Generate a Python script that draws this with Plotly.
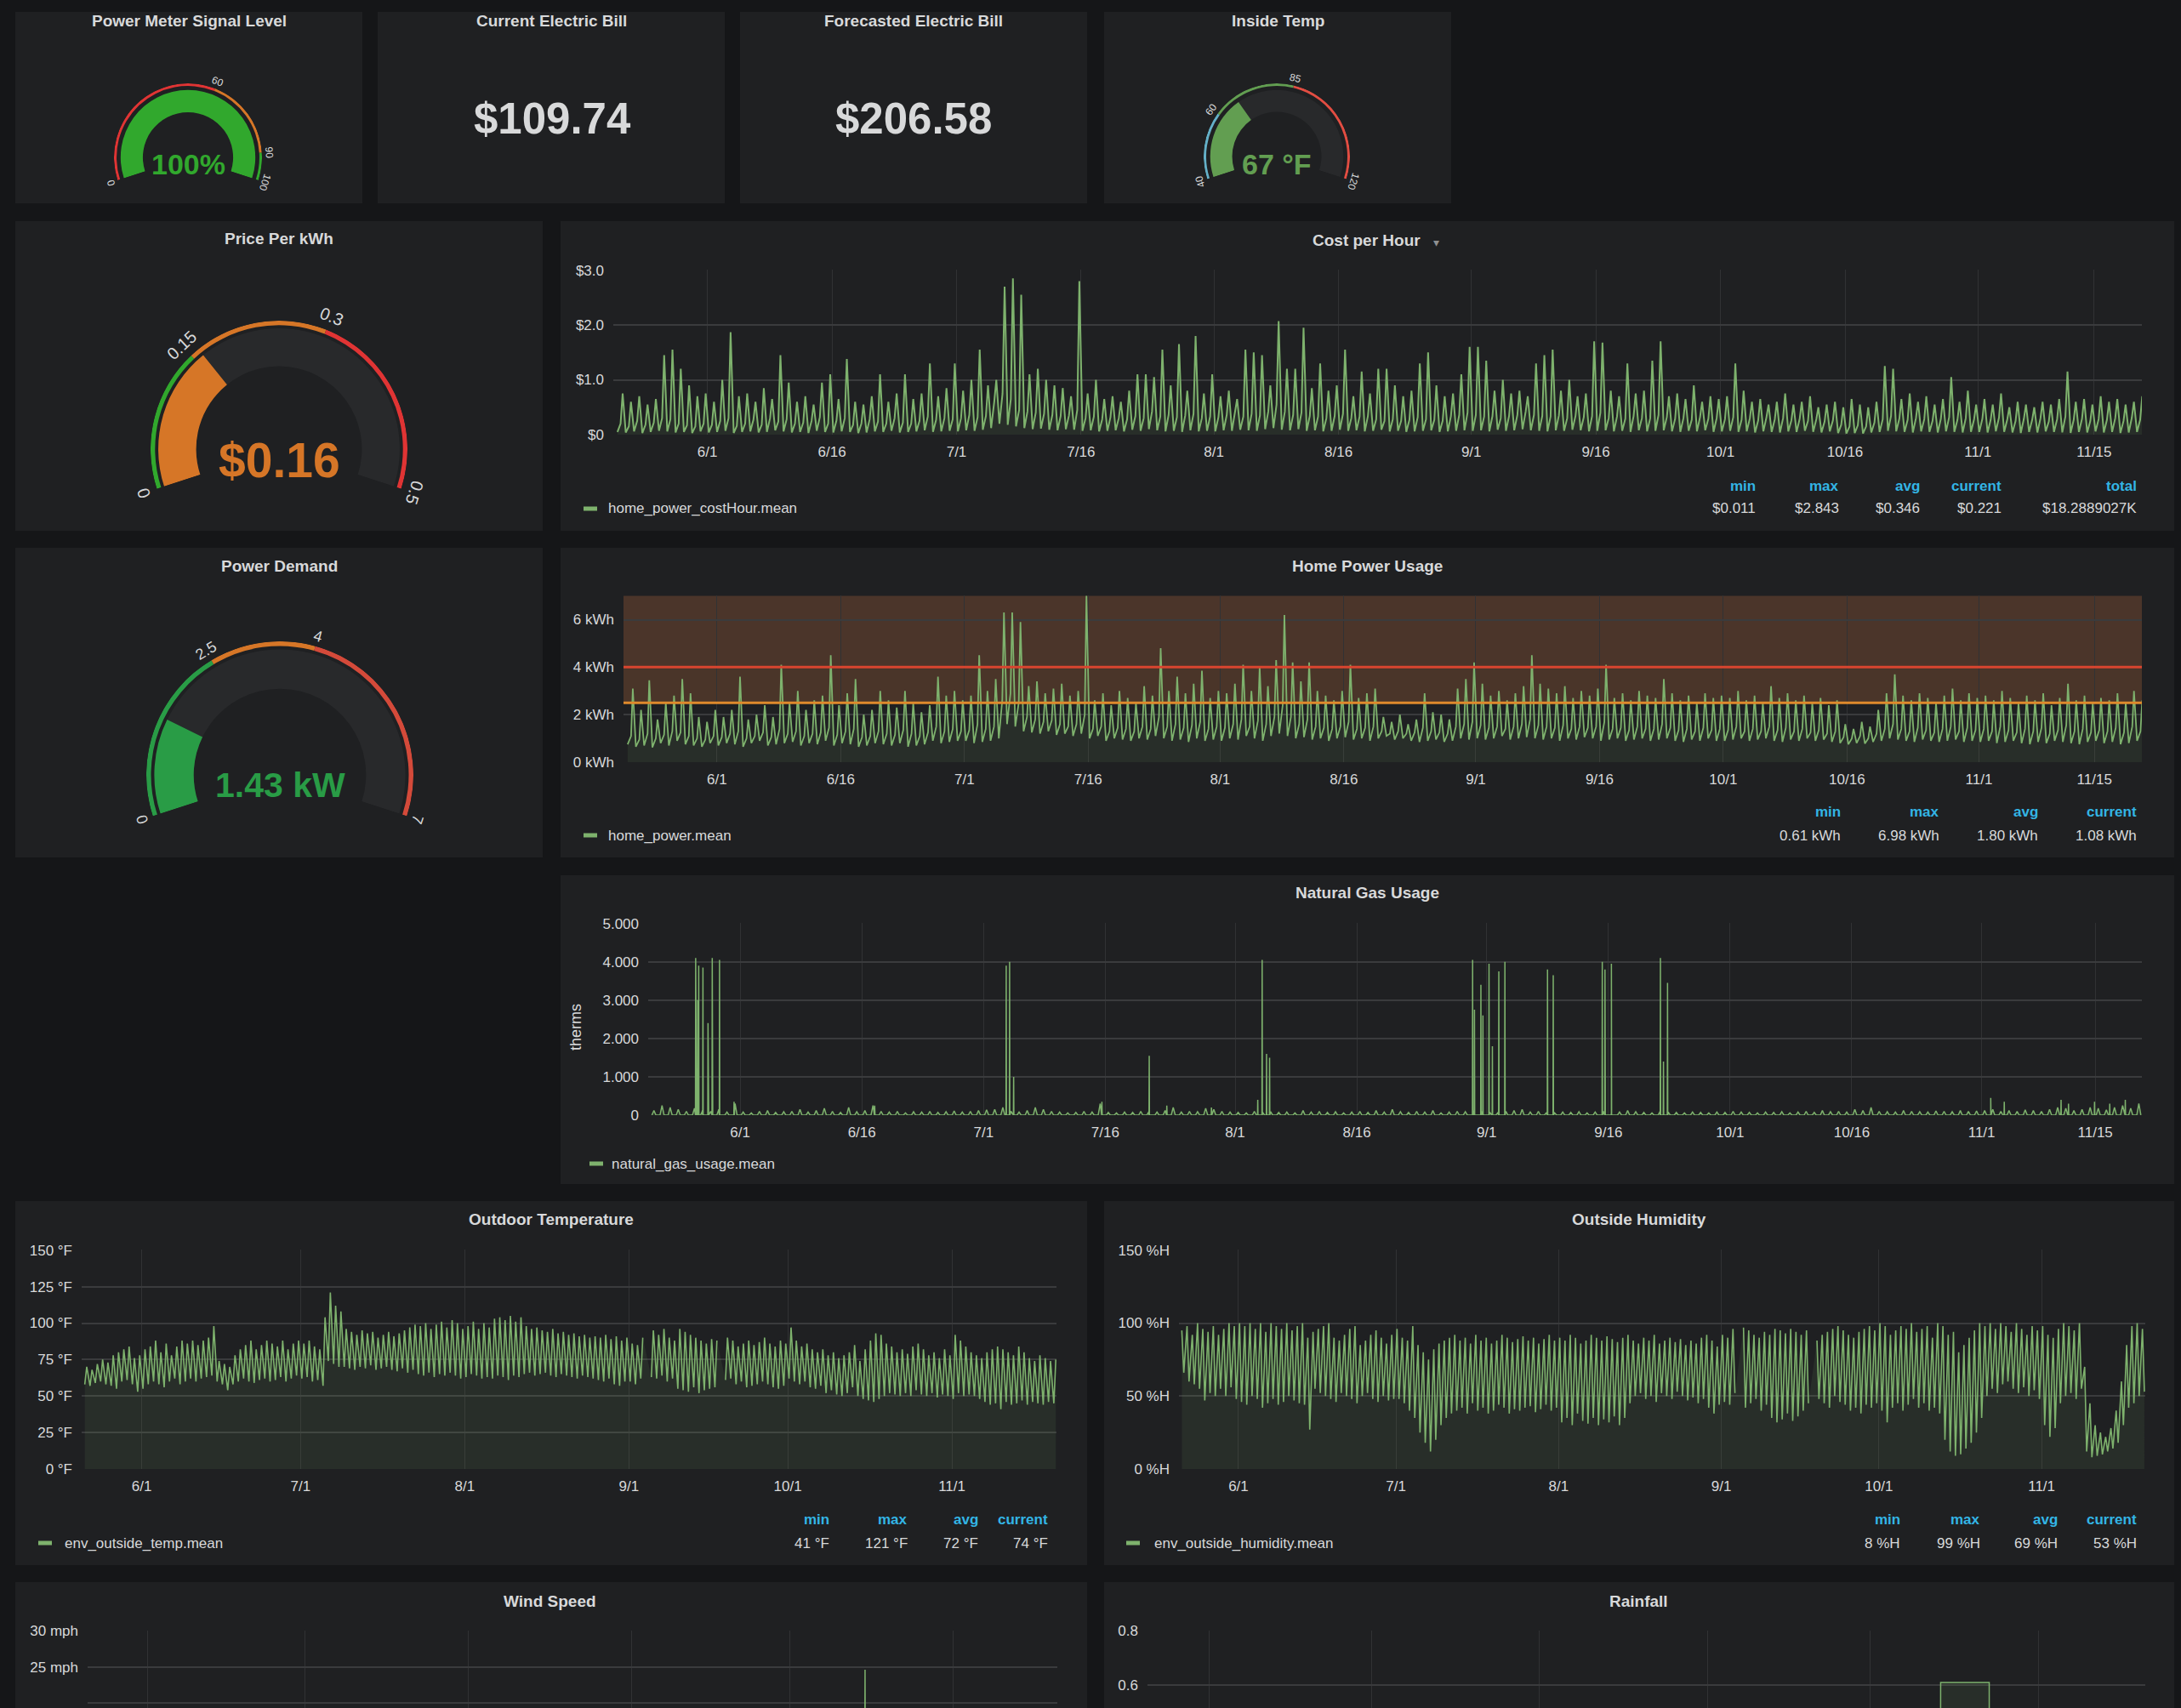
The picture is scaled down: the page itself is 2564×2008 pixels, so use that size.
import math
import pandas as pd
import plotly.graph_objects as go

W, H = 2564, 2008
PAGE_BG = "#151618"
PANEL_BG = "#1f2022"
TRACK = "#28292b"
TEXT = "#d8d9da"
LINE = "#7eb26d"
FILL = "rgba(126,178,109,0.10)"
BLUE = "#33b5e5"
GRID_Y = "#3a3b3d"
GRID_X = "#313234"
FONT = "Liberation Sans, Arial, sans-serif"

# ---------------- data ----------------
days = pd.date_range("2017-05-21", periods=184, freq="D")   # May 21 .. Nov 20
X_RANGE = ["2017-05-20 16:00", "2017-11-20 18:00"]

bill_titles = ["Current Electric Bill", "Forecasted Electric Bill"]
bill_values = ["$109.74", "$206.58"]

gauge_titles = ["Power Meter Signal Level", "Inside Temp", "Price Per kWh", "Power Demand"]
gauge_min = [0, 40, 0, 0]
gauge_max = [100, 120, 0.5, 7]
gauge_value = [100, 67, 0.16, 1.43]
gauge_thresholds = [[60, 90], [60, 85], [0.15, 0.3], [2.5, 4]]
gauge_value_text = ["100%", "67 °F", "$0.16", "1.43 kW"]

# cost per hour ($): night trough, daytime level, evening peak
cost_trough = [0.05, 0.04, 0.06, 0.03, 0.05, 0.07, 0.06, 0.04, 0.05, 0.03, 0.06,
               0.04, 0.05, 0.07, 0.03, 0.05, 0.06, 0.04, 0.05, 0.08, 0.06, 0.04, 0.05, 0.03, 0.07, 0.05,
               0.04, 0.06, 0.05, 0.03, 0.04, 0.06, 0.05, 0.07, 0.04, 0.05, 0.06, 0.08, 0.05, 0.06, 0.07,
               0.06, 0.08, 0.07, 0.09, 0.12, 0.2, 0.18, 0.15, 0.12, 0.1, 0.11, 0.09, 0.08, 0.1, 0.09,
               0.07, 0.08, 0.06, 0.07, 0.08, 0.06, 0.09, 0.07, 0.1, 0.08, 0.06, 0.07, 0.05, 0.08, 0.06, 0.07,
               0.06, 0.08, 0.07, 0.09, 0.08, 0.07, 0.1, 0.12, 0.09, 0.08, 0.1, 0.07, 0.08, 0.06, 0.07, 0.09,
               0.07, 0.08, 0.06, 0.07, 0.09, 0.06, 0.07, 0.05, 0.06, 0.07, 0.08, 0.05, 0.06, 0.07, 0.08,
               0.07, 0.08, 0.06, 0.09, 0.07, 0.08, 0.1, 0.08, 0.07, 0.06, 0.08, 0.07, 0.09, 0.08, 0.06,
               0.07, 0.08, 0.06, 0.07, 0.05, 0.08, 0.06, 0.07, 0.08, 0.06, 0.05, 0.07, 0.06, 0.08, 0.05,
               0.06, 0.07, 0.05, 0.06, 0.04, 0.06, 0.05, 0.04, 0.06, 0.05, 0.07, 0.05, 0.04, 0.06, 0.03,
               0.02, 0.03, 0.02, 0.04, 0.05, 0.07, 0.06, 0.05, 0.04, 0.06, 0.05, 0.04, 0.06, 0.05, 0.04, 0.05,
               0.05, 0.04, 0.06, 0.05, 0.04, 0.03, 0.05, 0.04, 0.06, 0.05, 0.04, 0.03, 0.05, 0.04, 0.06,
               0.04, 0.05, 0.03, 0.04, 0.05]
cost_day = [0.2, 0.15, 0.25, 0.18, 0.22, 0.3, 0.28, 0.2, 0.17, 0.15, 0.2,
            0.18, 0.25, 0.3, 0.16, 0.2, 0.27, 0.18, 0.3, 0.24, 0.28, 0.2, 0.22, 0.25, 0.32, 0.2,
            0.26, 0.3, 0.18, 0.2, 0.28, 0.24, 0.2, 0.3, 0.22, 0.2, 0.25, 0.33, 0.27, 0.3, 0.28,
            0.3, 0.36, 0.32, 0.34, 0.6, 0.75, 0.65, 0.45, 0.42, 0.4, 0.38, 0.36, 0.34, 0.35, 0.45,
            0.3, 0.33, 0.28, 0.32, 0.3, 0.28, 0.34, 0.3, 0.42, 0.33, 0.36, 0.32, 0.35, 0.38, 0.3, 0.33,
            0.32, 0.36, 0.4, 0.33, 0.38, 0.35, 0.42, 0.55, 0.42, 0.36, 0.4, 0.34, 0.33, 0.3, 0.34,
            0.38, 0.3, 0.33, 0.34, 0.28, 0.25, 0.28, 0.25, 0.27, 0.32, 0.28, 0.27, 0.25, 0.34, 0.36, 0.4,
            0.36, 0.33, 0.34, 0.3, 0.34, 0.36, 0.42, 0.36, 0.34, 0.33, 0.35, 0.3, 0.34, 0.32, 0.34,
            0.4, 0.3, 0.33, 0.29, 0.34, 0.3, 0.3, 0.36, 0.32, 0.29, 0.3, 0.27, 0.32, 0.29, 0.3,
            0.28, 0.32, 0.27, 0.3, 0.26, 0.32, 0.28, 0.3, 0.26, 0.29, 0.25, 0.28, 0.24, 0.26, 0.18,
            0.15, 0.17, 0.15, 0.22, 0.28, 0.34, 0.29, 0.27, 0.3, 0.28, 0.25, 0.29, 0.32, 0.27, 0.3, 0.28,
            0.29, 0.27, 0.31, 0.28, 0.25, 0.29, 0.27, 0.3, 0.24, 0.28, 0.33, 0.27, 0.29, 0.25, 0.28,
            0.27, 0.3, 0.25, 0.31, 0.27]
cost_peak = [0.75, 0.6, 0.7, 0.55, 0.65, 1.45, 1.55, 1.2, 0.9, 0.7, 0.75,
             0.6, 1.0, 1.87, 0.7, 0.75, 0.6, 0.85, 0.65, 1.45, 0.95, 0.6, 0.7, 0.55, 0.95, 1.1,
             0.65, 1.38, 0.6, 0.55, 0.7, 1.1, 0.6, 0.75, 1.1, 0.65, 0.75, 1.3, 0.7, 0.85, 1.3,
             0.8, 1.0, 1.55, 0.9, 1.0, 2.7, 2.85, 2.55, 1.1, 1.2, 1.0, 0.9, 0.85, 0.7, 2.8, 0.75,
             1.0, 0.65, 0.7, 0.6, 0.8, 1.1, 1.1, 1.05, 1.55, 0.9, 1.65, 0.8, 1.8, 0.75, 1.1,
             0.7, 0.8, 0.65, 1.55, 1.5, 1.45, 0.9, 2.07, 1.2, 1.2, 1.95, 0.85, 1.3, 0.8, 0.9, 1.55,
             0.7, 1.15, 0.75, 1.2, 1.2, 0.9, 0.7, 0.8, 1.3, 1.5, 0.9, 0.7, 0.75, 1.1, 1.6,
             1.6, 1.35, 0.8, 1.0, 0.75, 0.8, 0.7, 1.3, 1.45, 1.55, 0.8, 1.0, 0.7, 0.75, 1.7, 1.68,
             0.8, 0.7, 1.3, 0.75, 0.8, 1.35, 1.7, 0.7, 0.75, 0.65, 0.9, 0.6, 0.7, 0.65,
             0.7, 1.3, 0.8, 0.6, 0.65, 0.55, 0.6, 0.75, 0.55, 0.6, 0.7, 0.5, 0.55, 0.6, 0.5, 0.65,
             0.55, 0.5, 0.6, 1.25, 1.2, 0.65, 0.75, 0.6, 0.7, 0.55, 0.65, 1.05, 0.6, 0.8, 0.55,
             0.65, 0.55, 0.75, 0.5, 0.6, 0.55, 0.5, 0.6, 0.55, 0.65, 1.15, 0.6, 0.65, 0.55, 0.7,
             0.6, 0.65, 0.55, 0.6, 0.7]
cost_stats = [("min", "$0.011"), ("max", "$2.843"), ("avg", "$0.346"), ("current", "$0.221"), ("total", "$18.2889027K")]

# home power (kWh): night base load, daytime level, evening peak
power_base = [0.75, 0.65, 0.7, 0.62, 0.8, 0.7, 0.9, 0.75, 0.7, 0.65, 0.8,
              0.7, 0.8, 0.75, 0.65, 0.8, 0.9, 0.7, 0.75, 0.8, 0.85, 0.7, 0.8, 0.75, 0.9, 0.7,
              0.8, 0.75, 0.65, 0.7, 0.8, 0.75, 0.7, 0.8, 0.65, 0.7, 0.75, 0.9, 0.8, 0.85, 0.9,
              0.9, 0.8, 0.85, 0.9, 1.0, 1.6, 1.5, 1.3, 1.25, 1.2, 1.3, 1.15, 1.2, 1.1, 1.2, 1.0,
              1.1, 0.9, 1.0, 0.95, 0.9, 1.0, 0.95, 1.1, 1.0, 0.9, 0.95, 0.85, 1.0, 0.9, 0.95,
              0.9, 1.0, 0.95, 1.1, 1.0, 0.9, 1.1, 1.2, 1.1, 1.0, 1.05, 0.95, 1.0, 0.9, 1.0, 1.05,
              0.95, 1.0, 0.9, 1.0, 1.1, 0.95, 1.0, 0.9, 0.85, 0.9, 0.95, 0.85, 0.9, 1.0, 0.95,
              1.0, 0.95, 1.0, 1.1, 0.95, 1.0, 1.05, 1.0, 0.95, 1.0, 0.9, 1.0, 0.95, 1.05, 1.0,
              0.9, 0.95, 1.0, 0.9, 0.95, 1.0, 0.9, 0.95, 1.0, 0.9, 0.85, 0.95, 0.9, 1.0, 0.9,
              0.9, 0.95, 1.0, 0.9, 0.95, 1.0, 0.9, 0.85, 0.95, 0.9, 1.0, 0.9, 0.95, 0.85, 0.8,
              0.75, 0.8, 0.78, 0.85, 0.9, 1.0, 0.95, 0.9, 0.85, 0.95, 0.9, 0.85, 0.9, 0.95, 0.85, 0.9,
              0.85, 0.9, 0.8, 0.85, 0.9, 0.8, 0.75, 0.85, 0.8, 0.9, 0.85, 0.8, 0.75, 0.85, 0.9,
              0.8, 0.85, 0.75, 0.8, 0.9]
power_day = [1.1, 0.95, 1.2, 1.0, 1.15, 1.3, 1.25, 1.1, 1.0, 0.95, 1.1,
             1.05, 1.2, 1.3, 1.0, 1.1, 1.25, 1.05, 1.4, 1.2, 1.3, 1.1, 1.2, 1.25, 1.45, 1.15,
             1.3, 1.4, 1.05, 1.1, 1.3, 1.2, 1.15, 1.35, 1.2, 1.1, 1.25, 1.5, 1.3, 1.4, 1.3,
             1.35, 1.6, 1.4, 1.5, 2.6, 2.9, 2.5, 1.9, 1.8, 1.7, 1.75, 1.6, 1.5, 1.6, 2.0,
             1.4, 1.5, 1.3, 1.45, 1.4, 1.3, 1.5, 1.4, 1.9, 1.5, 1.6, 1.45, 1.55, 1.7, 1.4, 1.5,
             1.45, 1.6, 1.8, 1.5, 1.75, 1.6, 1.9, 2.4, 1.9, 1.6, 1.8, 1.5, 1.45, 1.4, 1.5,
             1.7, 1.4, 1.45, 1.5, 1.3, 1.2, 1.3, 1.2, 1.25, 1.45, 1.3, 1.25, 1.2, 1.5, 1.6, 1.7,
             1.55, 1.45, 1.5, 1.4, 1.5, 1.6, 1.8, 1.55, 1.5, 1.45, 1.55, 1.4, 1.5, 1.45, 1.5,
             1.7, 1.4, 1.45, 1.35, 1.5, 1.4, 1.4, 1.6, 1.45, 1.35, 1.4, 1.3, 1.45, 1.35, 1.4,
             1.35, 1.5, 1.3, 1.4, 1.3, 1.5, 1.35, 1.45, 1.3, 1.4, 1.25, 1.35, 1.2, 1.3, 1.05,
             1.0, 1.1, 1.0, 1.2, 1.4, 1.6, 1.4, 1.3, 1.45, 1.35, 1.25, 1.4, 1.5, 1.3, 1.45, 1.35,
             1.4, 1.3, 1.5, 1.35, 1.25, 1.4, 1.3, 1.45, 1.2, 1.35, 1.55, 1.3, 1.4, 1.25, 1.35,
             1.3, 1.45, 1.25, 1.5, 1.3]
power_peak = [3.1, 2.2, 3.45, 1.8, 2.5, 2.8, 3.5, 2.9, 1.9, 1.7, 2.2,
              1.9, 2.2, 3.6, 1.8, 2.0, 2.4, 1.9, 4.1, 2.5, 3.0, 2.2, 2.6, 2.8, 4.5, 2.4,
              2.9, 3.5, 2.0, 2.2, 3.0, 2.6, 2.3, 3.0, 2.5, 2.1, 2.4, 3.6, 2.8, 3.0, 2.6,
              2.8, 4.5, 3.0, 3.5, 6.3, 6.3, 5.9, 3.2, 3.4, 2.9, 3.1, 3.3, 2.8, 3.0, 7.0, 2.6,
              2.9, 2.4, 3.0, 2.7, 2.5, 3.2, 2.8, 4.8, 3.0, 3.6, 2.9, 3.3, 3.85, 2.7, 3.0,
              2.9, 3.3, 4.1, 3.0, 4.0, 3.2, 4.3, 6.2, 4.2, 3.4, 4.2, 3.0, 2.8, 2.6, 3.0, 4.1,
              2.7, 2.9, 3.1, 1.9, 1.7, 2.0, 1.6, 1.8, 2.9, 2.1, 2.0, 1.8, 3.1, 3.5, 4.2,
              3.3, 2.8, 3.0, 2.6, 2.9, 3.2, 4.5, 3.3, 3.1, 2.9, 3.2, 2.7, 3.0, 2.8, 3.1, 4.1,
              2.7, 2.9, 2.6, 3.0, 2.8, 2.7, 3.5, 2.9, 2.6, 2.8, 2.5, 2.9, 2.7, 2.8,
              2.7, 3.0, 2.6, 2.8, 2.5, 3.2, 2.7, 2.9, 2.6, 2.8, 2.5, 2.7, 2.4, 2.6, 1.6, 1.4,
              1.7, 1.5, 2.2, 2.9, 3.7, 2.8, 2.6, 2.9, 2.7, 2.5, 2.8, 3.1, 2.6, 2.9, 2.7,
              2.8, 2.6, 3.0, 2.7, 2.5, 2.8, 2.6, 2.9, 2.4, 2.7, 3.3, 2.6, 2.8, 2.5, 2.7,
              2.6, 2.9, 2.5, 3.0, 2.6]
power_thresholds = [2.5, 4]
power_stats = [("min", "0.61 kWh"), ("max", "6.98 kWh"), ("avg", "1.80 kWh"), ("current", "1.08 kWh")]

# natural gas (therms): small daily usage plus furnace / heater bursts
gas_daily = [0.12, 0.25, 0.2, 0.15, 0.1, 0.18, 0.12, 0.1, 0.15, 0.08, 0.3,
             0.08, 0.06, 0.1, 0.12, 0.07, 0.09, 0.1, 0.15, 0.08, 0.12, 0.18, 0.1, 0.07, 0.2, 0.09,
             0.12, 0.25, 0.1, 0.08, 0.1, 0.06, 0.09, 0.08, 0.1, 0.07, 0.09, 0.11, 0.08, 0.1, 0.12,
             0.14, 0.15, 0.2, 0.1, 0.08, 0.12, 0.2, 0.15, 0.1, 0.08, 0.06, 0.07, 0.1, 0.08, 0.3,
             0.07, 0.06, 0.08, 0.07, 0.1, 0.09, 0.08, 0.12, 0.2, 0.08, 0.1, 0.09, 0.18, 0.15, 0.1, 0.08,
             0.07, 0.06, 0.1, 0.08, 0.09, 0.07, 0.08, 0.06, 0.12, 0.08, 0.1, 0.07, 0.09, 0.06, 0.08,
             0.1, 0.07, 0.12, 0.08, 0.15, 0.09, 0.07, 0.1, 0.08, 0.12, 0.06, 0.08, 0.1, 0.09, 0.12, 0.1,
             0.08, 0.06, 0.1, 0.12, 0.15, 0.08, 0.1, 0.07, 0.06, 0.08, 0.07, 0.09, 0.06, 0.08, 0.1,
             0.07, 0.08, 0.12, 0.09, 0.07, 0.06, 0.1, 0.08, 0.07, 0.06, 0.08, 0.07, 0.06, 0.08, 0.07,
             0.1, 0.08, 0.07, 0.06, 0.08, 0.07, 0.09, 0.06, 0.08, 0.1, 0.07, 0.12, 0.09, 0.1, 0.08,
             0.15, 0.12, 0.2, 0.1, 0.09, 0.08, 0.12, 0.1, 0.09, 0.08, 0.11, 0.1, 0.09, 0.12, 0.1, 0.11,
             0.12, 0.15, 0.1, 0.12, 0.1, 0.14, 0.12, 0.1, 0.15, 0.2, 0.18, 0.12, 0.15, 0.2, 0.18,
             0.14, 0.2, 0.25, 0.18, 0.3]
gas_burst_times = ["2017-05-26 12:30", "2017-05-26 18:30", "2017-05-26 21:30", "2017-05-27 10:00",
                   "2017-05-28 01:00", "2017-05-28 13:30", "2017-05-29 11:00", "2017-05-31 06:00",
                   "2017-06-17 14:00", "2017-07-03 19:00", "2017-07-04 05:00", "2017-07-04 17:00",
                   "2017-07-15 14:00", "2017-07-21 10:00", "2017-07-23 14:00", "2017-07-29 02:00",
                   "2017-08-03 19:00", "2017-08-04 08:00", "2017-08-04 21:00", "2017-08-05 06:00",
                   "2017-08-30 06:30", "2017-08-30 12:00", "2017-08-31 07:00", "2017-08-31 13:00",
                   "2017-09-01 07:00", "2017-09-01 17:00", "2017-09-02 12:00", "2017-09-03 06:00",
                   "2017-09-08 12:00", "2017-09-09 05:00", "2017-09-15 06:00", "2017-09-15 14:00",
                   "2017-09-16 09:00", "2017-09-22 10:00", "2017-09-22 19:00", "2017-09-23 07:00",
                   "2017-11-02 03:00", "2017-11-03 19:00", "2017-11-10 19:00", "2017-11-11 17:00",
                   "2017-11-14 22:00", "2017-11-16 19:00", "2017-11-18 17:00"]
gas_burst_vals = [4.1, 3.0, 3.9, 3.85, 2.4, 4.1, 4.05, 0.35,
                  0.25, 3.9, 4.0, 1.0,
                  0.35, 1.55, 0.25, 0.2,
                  0.4, 4.05, 1.6, 1.5,
                  4.05, 2.75, 3.4, 2.6,
                  3.95, 1.8, 3.75, 4.0,
                  3.8, 3.65, 4.0, 3.8,
                  3.95, 4.1, 1.4, 3.45,
                  0.45, 0.35, 0.4, 0.3,
                  0.35, 0.3, 0.4]

# outdoor temperature (°F): daily low / high, None = sensor gap
temp_lo = [58, 57, 59, 60, 58, 57, 55, 60, 61, 58, 53,
           55, 58, 60, 58, 56, 60, 62, 58, 60, 62, 60, 62, 63, 64, 60, 58, 54, 58, 60, 62,
           60, 59, 61, 62, 60, 61, 63, 60, 62, 64,
           62, 63, 60, 61, 57, 74, 72, 70, 70, 69, 68, 70, 69, 71, 68, 69, 70, 68, 67, 69,
           66, 68, 65, 64, 66, 63, 65, 64, 66, 64, 62,
           63, 65, 64, 62, 63, 62, 64, 63, 61, 64, 63, 65, 66, 64, 65, 66, 64, 63, 65, 64,
           63, 62, 64, 63, 62, 61, 60, 62, 58, 57, 60,
           60, 58, 62, None, 63, 62, 64, 60, 62, 55, 54, 53, 56, 52, 54, 55, 56, None, 61, 62,
           58, 60, 56, 57, 58, 60, 58, 56, 55, 57,
           62, 60, 58, 60, 56, 55, 57, 52, 54, 51, 50, 52, 56, 50, 48, 47, 46, 48, 50, 52,
           51, 50, 52, 50, 54, 51, 50, 52, 49, 51, 50,
           48, 52, 50, 51, 50, 48, 46, 44, 45, 41, 46, 44, 45, 47, 44, 46, 45, 44, 46, 45]
temp_hi = [70, 68, 72, 75, 73, 78, 80, 82, 84, 76, 78,
           82, 84, 88, 80, 86, 78, 84, 88, 86, 88, 85, 88, 90, 98, 74, 72, 70, 78, 82, 85,
           88, 82, 85, 88, 86, 84, 88, 82, 86, 88,
           86, 88, 84, 82, 104, 121, 112, 108, 96, 94, 92, 95, 93, 94, 90, 92, 94, 91, 93, 95,
           97, 99, 98, 100, 96, 99, 101, 97, 102, 100, 96,
           98, 101, 96, 100, 97, 103, 104, 102, 105, 101, 104, 98, 96, 97, 95, 94, 96, 93, 94, 92,
           93, 91, 92, 90, 91, 90, 92, 89, 91, 88, 90,
           86, 85, 90, None, 95, 92, 96, 90, 88, 96, 94, 92, 90, 88, 86, 89, 88, None, 90, 88,
           84, 86, 88, 85, 87, 90, 86, 84, 88, 86,
           97, 88, 84, 86, 82, 80, 82, 78, 80, 76, 78, 80, 85, 74, 82, 88, 93, 92, 86, 84,
           80, 82, 79, 84, 86, 82, 78, 80, 76, 82, 78,
           92, 88, 84, 80, 78, 76, 80, 82, 84, 82, 80, 78, 84, 80, 76, 74, 78, 76, 74, 75]
temp_stats = [("min", "41 °F"), ("max", "121 °F"), ("avg", "72 °F"), ("current", "74 °F")]

# outside humidity (%H): daily max (night) / min (afternoon)
hum_max = [95, 98, 92, 100, 96, 94, 98, 92, 96, 100, 98,
           100, 98, 100, 96, 100, 94, 100, 98, 96, 100, 95, 98, 100, 90, 94, 96, 98, 100, 90, 88,
           92, 96, 98, 85, 88, 92, 95, 90, 86, 92,
           96, 90, 88, 98, 85, 80, 75, 82, 86, 88, 90, 92, 88, 90, 86, 92, 88, 90, 86, 88,
           92, 90, 87, 89, 91, 88, 90, 86, 89, 92, 88,
           90, 88, 92, 90, 86, 88, 92, 90, 88, 91, 89, 87, 90, 92, 88, 86, 90, 88, 92, 86,
           88, 90, 87, 89, 85, 88, 86, 90, 92, 88, 84,
           92, 90, 96, None, 97, 95, 92, 90, 94, 92, 96, 95, 93, 96, 94, 92, 95, None, 88, 92,
           94, 96, 98, 95, 92, 90, 94, 96, 98, 95,
           100, 98, 92, 95, 98, 96, 100, 94, 96, 98, 90, 100, 98, 92, 94, 80, 85, 90, 95, 100,
           98, 100, 96, 100, 98, 94, 100, 96, 92, 98, 95,
           98, 92, 90, 96, 100, 98, 95, 100, 70, 45, 30, 25, 22, 28, 40, 60, 85, 98, 100, 96]
hum_min = [66, 60, 58, 55, 47, 52, 50, 55, 50, 56, 48,
           46, 44, 50, 48, 42, 45, 48, 44, 46, 50, 47, 45, 44, 27, 55, 52, 50, 48, 46, 52,
           50, 48, 45, 50, 52, 48, 46, 50, 47, 48,
           48, 45, 40, 35, 25, 18, 12, 20, 30, 35, 38, 40, 42, 38, 45, 40, 42, 38, 40, 44,
           42, 38, 41, 40, 42, 43, 39, 41, 44, 40, 42,
           32, 35, 30, 38, 33, 31, 35, 30, 34, 32, 36, 30, 35, 45, 50, 52, 48, 50, 46, 52,
           50, 48, 53, 50, 47, 49, 45, 48, 42, 38, 44,
           46, 44, 52, None, 42, 45, 48, 40, 44, 35, 32, 34, 38, 33, 36, 40, 45, None, 48, 45,
           42, 50, 46, 44, 40, 42, 38, 44, 42, 45,
           40, 32, 42, 45, 40, 44, 48, 42, 45, 40, 42, 38, 20, 12, 9, 10, 14, 18, 25, 35,
           50, 55, 52, 58, 60, 55, 52, 56, 50, 54, 48,
           30, 22, 28, 45, 50, 52, 48, 55, 12, 8, 9, 10, 12, 14, 18, 30, 42, 45, 50, 53]
hum_stats = [("min", "8 %H"), ("max", "99 %H"), ("avg", "69 %H"), ("current", "53 %H")]

# wind speed (mph): weekly gust readings plus one storm spike
wind_weeks = pd.date_range("2017-05-21", periods=27, freq="7D")
wind_gust = [12, 14, 10, 15, 11, 13, 9, 12, 16, 10, 11, 14, 13, 12, 9, 15, 11, 10, 13, 14,
             17, 12, 11, 15, 13, 16, 12]
wind_spike_times = ["2017-10-15 05:00", "2017-10-15 06:00", "2017-10-15 07:00"]
wind_spike_vals = [15, 24.6, 14]

# rainfall
rain_times = ["2017-05-20 16:00", "2017-10-13 23:00", "2017-10-14 00:00",
              "2017-10-22 23:00", "2017-10-23 00:00", "2017-11-20 18:00"]
rain_vals = [0.0, 0.0, 0.61, 0.61, 0.0, 0.0]

semi_ticks = ["2017-06-01", "2017-06-16", "2017-07-01", "2017-07-16", "2017-08-01", "2017-08-16",
              "2017-09-01", "2017-09-16", "2017-10-01", "2017-10-16", "2017-11-01", "2017-11-15"]
semi_text = ["6/1", "6/16", "7/1", "7/16", "8/1", "8/16", "9/1", "9/16", "10/1", "10/16", "11/1", "11/15"]
month_ticks = ["2017-06-01", "2017-07-01", "2017-08-01", "2017-09-01", "2017-10-01", "2017-11-01"]
month_text = ["6/1", "7/1", "8/1", "9/1", "10/1", "11/1"]


# ---------------- helpers ----------------
def xp(v):
    return v / W


def yp(v):
    return 1 - v / H


def daily(*pairs):
    """pairs of (values, hour); one point per list per day, in the given hour order"""
    xs, ys = [], []
    for i, d in enumerate(days):
        for vals, h in pairs:
            xs.append(d + pd.Timedelta(hours=h))
            ys.append(vals[i])
    return xs, ys


fig = go.Figure()
shapes = []
annotations = []


def text(s, x, y, size, color=TEXT, bold=False, xanchor="center", angle=0):
    annotations.append(dict(
        text=f"<b>{s}</b>" if bold else s, x=xp(x), y=yp(y), xref="paper", yref="paper",
        xanchor=xanchor, yanchor="middle", showarrow=False, textangle=angle,
        font=dict(family=FONT, size=size, color=color)))


# panels
panel_boxes = [(18, 14, 426, 239), (444, 14, 852, 239), (870, 14, 1278, 239), (1298, 14, 1706, 239),
               (18, 260, 638, 624), (659, 260, 2556, 624),
               (18, 644, 638, 1008), (659, 644, 2556, 1008),
               (659, 1029, 2556, 1392),
               (18, 1412, 1278, 1840), (1298, 1412, 2556, 1840),
               (18, 1860, 1278, 2030), (1298, 1860, 2556, 2030)]
for x0, y0, x1, y1 in panel_boxes:
    shapes.append(dict(type="rect", xref="paper", yref="paper", x0=xp(x0), x1=xp(x1),
                       y0=yp(y1), y1=yp(y0), fillcolor=PANEL_BG, line_width=0, layer="below"))

titles = [("Power Meter Signal Level", 222, 25), ("Current Electric Bill", 648, 25),
          ("Forecasted Electric Bill", 1074, 25), ("Inside Temp", 1502, 25),
          ("Price Per kWh", 328, 280), ("Cost per Hour", 1606, 282),
          ("Power Demand", 328, 665), ("Home Power Usage", 1607, 666),
          ("Natural Gas Usage", 1607, 1049), ("Outdoor Temperature", 648, 1433),
          ("Outside Humidity", 1927, 1433), ("Wind Speed", 646, 1882), ("Rainfall", 1926, 1882)]
for t, x, y in titles:
    text(t, x, y, 19, bold=True)
text("▾", 1688, 285, 14, color="#8e8f91")

# single stats
for v, x in zip(bill_values, [649, 1074]):
    text(v, x, 140, 51, bold=True)

# ---------------- gauges ----------------
gauge_style = [
    dict(cx=221, cy=185, r=87, ring=["#e03434", "#d67627", "#31a82d"], color="#31a82d",
         vsize=34, vy=193, lsize=12, lr=1.1, inner=0.61, outer=0.91),
    dict(cx=1501, cy=184, r=86, ring=["#64b0c8", "#629e51", "#e24d42"], color="#629e51",
         vsize=34, vy=193, lsize=12, lr=1.1, inner=0.61, outer=0.91),
    dict(cx=328, cy=528, r=151, ring=["#31a82d", "#d67627", "#e03434"], color="#d67627",
         vsize=57, vy=541, lsize=20, lr=1.11, inner=0.645, outer=0.94),
    dict(cx=329, cy=911, r=157, ring=["#299c46", "#d67627", "#d44a3a"], color="#299c46",
         vsize=41, vy=923, lsize=18, lr=1.08, inner=0.645, outer=0.94),
]
SIN18 = math.sin(math.radians(18))
for k, (vmin, vmax, val, thr, vtxt, st) in enumerate(
        zip(gauge_min, gauge_max, gauge_value, gauge_thresholds, gauge_value_text, gauge_style), start=1):
    pname = "polar" if k == 1 else f"polar{k}"
    cx, cy, R = st["cx"], st["cy"], st["r"]
    fig.update_layout(**{pname: dict(
        domain=dict(x=[xp(cx - R), xp(cx + R)], y=[yp(cy + SIN18 * R), yp(cy - R)]),
        sector=[-18, 198], hole=0, bgcolor="rgba(0,0,0,0)",
        radialaxis=dict(visible=False, range=[0, 1]),
        angularaxis=dict(visible=False, rotation=-162, direction="clockwise"))})

    def deg(v):
        return (v - vmin) / (vmax - vmin) * 216

    edges = [vmin] + thr + [vmax]
    thick = st["outer"] - st["inner"]
    theta, width = [108, deg(val) / 2], [216, deg(val)]
    base, rr, cols = [st["inner"], st["inner"]], [thick, thick], [TRACK, st["color"]]
    for a, b, c in zip(edges[:-1], edges[1:], st["ring"]):
        theta.append((deg(a) + deg(b)) / 2)
        width.append(deg(b) - deg(a))
        base.append(0.965)
        rr.append(0.035)
        cols.append(c)
    fig.add_trace(go.Barpolar(theta=theta, r=rr, base=base, width=width, subplot=pname,
                              marker=dict(color=cols, line=dict(width=0)),
                              hoverinfo="skip", showlegend=False))
    for v in edges:
        phi = 198 - deg(v)
        d = R * st["lr"]
        text(f"{v:g}", cx + d * math.cos(math.radians(phi)), cy - d * math.sin(math.radians(phi)),
             st["lsize"], angle=90 - phi)
    text(vtxt, cx, st["vy"], st["vsize"], color=st["color"], bold=True)

# ---------------- time series ----------------
cost_x, cost_y = daily((cost_trough, 4), (cost_day, 13), (cost_peak, 19))
power_x, power_y = daily((power_base, 4), (power_day, 14), (power_peak, 19))
temp_x, temp_y = daily((temp_lo, 6), (temp_hi, 15))
hum_x, hum_y = daily((hum_max, 5), (hum_min, 14))

gas_pts = []
for d, v in zip(days, gas_daily):
    gas_pts += [(d + pd.Timedelta(hours=3), 0.0), (d + pd.Timedelta(hours=9), v), (d + pd.Timedelta(hours=15), 0.0)]
for t, v in zip(gas_burst_times, gas_burst_vals):
    t = pd.Timestamp(t)
    gas_pts += [(t - pd.Timedelta(minutes=40), 0.0), (t, v), (t + pd.Timedelta(minutes=40), 0.0)]
gas_pts.sort(key=lambda p: p[0])
gas_x = [p[0] for p in gas_pts]
gas_y = [p[1] for p in gas_pts]

wind_pts = list(zip(wind_weeks, wind_gust)) + [(pd.Timestamp(t), v) for t, v in zip(wind_spike_times, wind_spike_vals)]
wind_pts.sort(key=lambda p: p[0])
wind_x = [p[0] for p in wind_pts]
wind_y = [p[1] for p in wind_pts]

charts = [
    (cost_x, cost_y, (721, 317, 2518, 511), [0, 3], [0, 1, 2, 3], ["$0", "$1.0", "$2.0", "$3.0"], semi_ticks, semi_text, 2.0),
    (power_x, power_y, (733, 700, 2518, 896), [0, 7], [0, 2, 4, 6], ["0 kWh", "2 kWh", "4 kWh", "6 kWh"], semi_ticks, semi_text, 1.8),
    (gas_x, gas_y, (762, 1085, 2518, 1311), [0, 5], [0, 1, 2, 3, 4, 5], ["0", "1.000", "2.000", "3.000", "4.000", "5.000"], semi_ticks, semi_text, 1.5),
    (temp_x, temp_y, (96, 1469, 1242, 1727), [0, 150], [0, 25, 50, 75, 100, 125, 150],
     ["0 °F", "25 °F", "50 °F", "75 °F", "100 °F", "125 °F", "150 °F"], month_ticks, month_text, 1.6),
    (hum_x, hum_y, (1386, 1469, 2522, 1727), [0, 150], [0, 50, 100, 150], ["0 %H", "50 %H", "100 %H", "150 %H"], month_ticks, month_text, 1.6),
    (wind_x, wind_y, (103, 1917, 1243, 2008), [19.29, 30], [20, 25, 30], ["20 mph", "25 mph", "30 mph"], month_ticks, month_text, 1.5),
    (rain_times, rain_vals, (1349, 1917, 2522, 2008), [0.516, 0.8], [0.6, 0.8], ["0.6", "0.8"], month_ticks, month_text, 1.5),
]
for n, (xs, ys, box, yr, yv, yt, xv, xt, lw) in enumerate(charts, start=1):
    sfx = "" if n == 1 else str(n)
    x0, y0, x1, y1 = box
    pad = (yr[1] - yr[0]) * 0.003
    fig.add_trace(go.Scatter(x=xs, y=ys, mode="lines", line=dict(color=LINE, width=lw),
                             fill="tozeroy", fillcolor=FILL, connectgaps=False,
                             xaxis="x" + sfx, yaxis="y" + sfx, hoverinfo="skip", showlegend=False))
    fig.update_layout(**{
        "xaxis" + sfx: dict(domain=[xp(x0), xp(x1)], anchor="y" + sfx, type="date", range=X_RANGE,
                            tickvals=xv, ticktext=xt, showgrid=True, gridcolor=GRID_X, gridwidth=1,
                            zeroline=False, showline=False, ticks="", ticklabelstandoff=8,
                            showticklabels=n <= 5, automargin=False,
                            tickfont=dict(family=FONT, size=17, color=TEXT), fixedrange=True),
        "yaxis" + sfx: dict(domain=[yp(y1), yp(y0)], anchor="x" + sfx, range=[yr[0], yr[1] + pad],
                            tickvals=yv, ticktext=yt, showgrid=True, gridcolor=GRID_Y, gridwidth=2,
                            zeroline=False, showline=False, ticks="", ticklabelstandoff=10,
                            automargin=False,
                            tickfont=dict(family=FONT, size=17, color=TEXT), fixedrange=True),
    })

# home power thresholds (chart 2): shaded zones above 2.5 kWh and 4 kWh, plus lines
shapes.append(dict(type="rect", xref="x2 domain", yref="y2", x0=0, x1=1, y0=power_thresholds[0], y1=power_thresholds[1],
                   fillcolor="#4a3529", line_width=0, layer="below"))
shapes.append(dict(type="rect", xref="x2 domain", yref="y2", x0=0, x1=1, y0=power_thresholds[1], y1=7,
                   fillcolor="#4b352a", line_width=0, layer="below"))
shapes.append(dict(type="line", xref="x2 domain", yref="y2", x0=0, x1=1, y0=power_thresholds[0], y1=power_thresholds[0],
                   line=dict(color="#df8a2c", width=3), layer="above"))
shapes.append(dict(type="line", xref="x2 domain", yref="y2", x0=0, x1=1, y0=power_thresholds[1], y1=power_thresholds[1],
                   line=dict(color="#d9452f", width=3), layer="above"))

text("therms", 677, 1208, 18, angle=-90)

# legends and stats
legends = [("home_power_costHour.mean", 686, 713, 598), ("home_power.mean", 686, 713, 982),
           ("natural_gas_usage.mean", 693, 717, 1368), ("env_outside_temp.mean", 45, 74, 1814),
           ("env_outside_humidity.mean", 1324, 1355, 1814)]
for name, mx, tx, y in legends:
    shapes.append(dict(type="rect", xref="paper", yref="paper", x0=xp(mx), x1=xp(mx + 16),
                       y0=yp(y + 2.5), y1=yp(y - 2.5), fillcolor=LINE, line_width=0))
    text(name, tx, y, 17, xanchor="left")

stat_blocks = [(cost_stats, [2066, 2164, 2259, 2355, 2514], 571, 598),
               (power_stats, [2166, 2282, 2398, 2514], 954, 982),
               (temp_stats, [977, 1069, 1152, 1234], 1786, 1814),
               (hum_stats, [2236, 2330, 2421, 2514], 1786, 1814)]
for stats, xs, yh, yv in stat_blocks:
    for (lab, val), x in zip(stats, xs):
        text(lab, x, yh, 17, color=BLUE, bold=True, xanchor="right")
        text(val, x, yv, 17, xanchor="right")

fig.update_layout(width=W, height=H, margin=dict(l=0, r=0, t=0, b=0, pad=0, autoexpand=False),
                  paper_bgcolor=PAGE_BG, plot_bgcolor="rgba(0,0,0,0)",
                  shapes=shapes, annotations=annotations, showlegend=False,
                  font=dict(family=FONT, color=TEXT))
fig.write_html("out.html", config={"displayModeBar": False},
               post_script="document.documentElement.style.margin='0';document.body.style.margin='0';"
                           "document.body.style.padding='0';document.documentElement.style.overflow='hidden';"
                           "window.scrollTo(0,0);")
